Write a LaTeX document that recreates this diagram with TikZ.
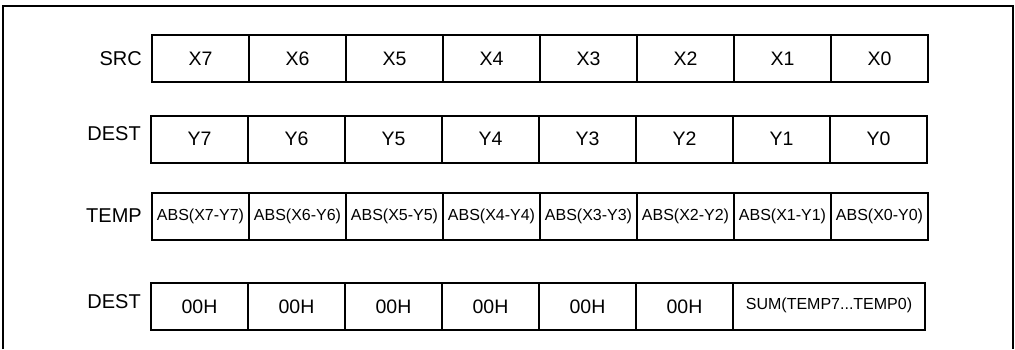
\documentclass[tikz,border=0pt]{standalone}
\usepackage{fontspec}
\setmainfont{Liberation Sans}
\usetikzlibrary{positioning}

\tikzset{
  cell/.style={draw, line width=2pt, minimum width=97pt, minimum height=47pt, inner sep=0pt, font=\fontsize{19.5}{22}\selectfont},
  smallcell/.style={cell, font=\fontsize{16}{18}\selectfont},
  rowlabel/.style={inner sep=0pt, font=\fontsize{20}{22}\selectfont}
}

\begin{document}
\begin{tikzpicture}[x=1pt, y=1pt]
    \useasboundingbox (0, 0) rectangle (1015, 349);
    % outer frame, open at the bottom
    \draw[line width=2pt] (3, 0) -- (3, 343) -- (1012.5, 343) -- (1012.5, 0);

    % SRC row
    \node[cell] at (200.5, 290.5) (x7) {X7};
    \node[cell] at (297.5, 290.5) (x6) {X6};
    \node[cell] at (394.5, 290.5) (x5) {X5};
    \node[cell] at (491.5, 290.5) (x4) {X4};
    \node[cell] at (588.5, 290.5) (x3) {X3};
    \node[cell] at (685.5, 290.5) (x2) {X2};
    \node[cell] at (782.5, 290.5) (x1) {X1};
    \node[cell] at (879.5, 290.5) (x0) {X0};
    \node[rowlabel, left=9pt of x7] (src) {SRC};

    % DEST row
    \node[cell] at (199.5, 210) (y7) {\raisebox{-2pt}{Y7}};
    \node[cell] at (296.5, 210) (y6) {\raisebox{-2pt}{Y6}};
    \node[cell] at (393.5, 210) (y5) {\raisebox{-2pt}{Y5}};
    \node[cell] at (490.5, 210) (y4) {\raisebox{-2pt}{Y4}};
    \node[cell] at (587.5, 210) (y3) {\raisebox{-2pt}{Y3}};
    \node[cell] at (684.5, 210) (y2) {\raisebox{-2pt}{Y2}};
    \node[cell] at (781.5, 210) (y1) {\raisebox{-2pt}{Y1}};
    \node[cell] at (878.5, 210) (y0) {\raisebox{-2pt}{Y0}};
    \node[rowlabel, left=9pt of y7, yshift=5pt] (dest) {DEST};

    % TEMP row
    \node[smallcell] at (200.5, 133) (t7) {ABS(X7-Y7)};
    \node[smallcell] at (297.5, 133) (t6) {ABS(X6-Y6)};
    \node[smallcell] at (394.5, 133) (t5) {ABS(X5-Y5)};
    \node[smallcell] at (491.5, 133) (t4) {ABS(X4-Y4)};
    \node[smallcell] at (588.5, 133) (t3) {ABS(X3-Y3)};
    \node[smallcell] at (685.5, 133) (t2) {ABS(X2-Y2)};
    \node[smallcell] at (782.5, 133) (t1) {ABS(X1-Y1)};
    \node[smallcell] at (879.5, 133) (t0) {ABS(X0-Y0)};
    \node[rowlabel, left=9pt of t7] (temp) {TEMP};

    % DEST row after sum
    \node[cell] at (199.5, 42.5) (r7) {\raisebox{-3pt}{00H}};
    \node[cell] at (296.5, 42.5) (r6) {\raisebox{-3pt}{00H}};
    \node[cell] at (393.5, 42.5) (r5) {\raisebox{-3pt}{00H}};
    \node[cell] at (490.5, 42.5) (r4) {\raisebox{-3pt}{00H}};
    \node[cell] at (587.5, 42.5) (r3) {\raisebox{-3pt}{00H}};
    \node[cell] at (684.5, 42.5) (r2) {\raisebox{-3pt}{00H}};
    \node[smallcell, minimum width=192pt] at (829, 42.5) (sum) {\raisebox{5pt}{SUM(TEMP7...TEMP0)}};
    \node[rowlabel, left=9pt of r7, yshift=5pt] (destb) {DEST};

\end{tikzpicture}
\end{document}
